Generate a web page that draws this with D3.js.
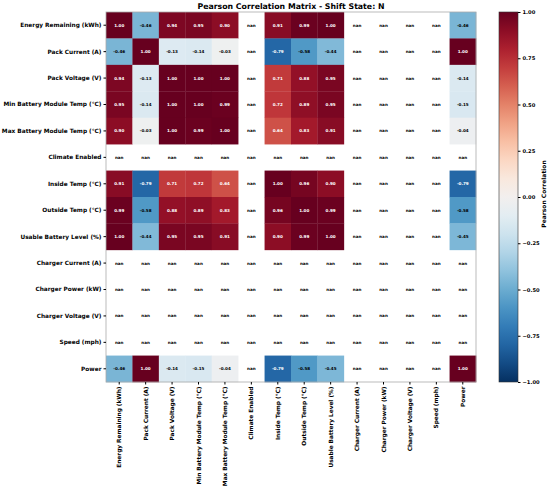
<!DOCTYPE html>
<html>
<head>
<meta charset="utf-8">
<script src="https://cdn.jsdelivr.net/npm/d3@7"></script>
<style>
  body { margin: 0; background: #fff; }
  text { font-family: "DejaVu Sans", sans-serif; font-weight: bold; }
</style>
</head>
<body>
<svg id="chart" width="550" height="489"></svg>
<script>
var variables = [
  "Energy Remaining (kWh)", "Pack Current (A)", "Pack Voltage (V)",
  "Min Battery Module Temp (°C)", "Max Battery Module Temp (°C)",
  "Climate Enabled", "Inside Temp (°C)", "Outside Temp (°C)",
  "Usable Battery Level (%)", "Charger Current (A)", "Charger Power (kW)",
  "Charger Voltage (V)", "Speed (mph)", "Power"
];

var N = null;
var corr = [
  [1.00, -0.46, 0.94, 0.95, 0.90, N, 0.91, 0.99, 1.00, N, N, N, N, -0.46],
  [-0.46, 1.00, -0.13, -0.14, -0.03, N, -0.79, -0.58, -0.44, N, N, N, N, 1.00],
  [0.94, -0.13, 1.00, 1.00, 1.00, N, 0.71, 0.88, 0.95, N, N, N, N, -0.14],
  [0.95, -0.14, 1.00, 1.00, 0.99, N, 0.72, 0.89, 0.95, N, N, N, N, -0.15],
  [0.90, -0.03, 1.00, 0.99, 1.00, N, 0.64, 0.83, 0.91, N, N, N, N, -0.04],
  [N, N, N, N, N, N, N, N, N, N, N, N, N, N],
  [0.91, -0.79, 0.71, 0.72, 0.64, N, 1.00, 0.96, 0.90, N, N, N, N, -0.79],
  [0.99, -0.58, 0.88, 0.89, 0.83, N, 0.96, 1.00, 0.99, N, N, N, N, -0.58],
  [1.00, -0.44, 0.95, 0.95, 0.91, N, 0.90, 0.99, 1.00, N, N, N, N, -0.45],
  [N, N, N, N, N, N, N, N, N, N, N, N, N, N],
  [N, N, N, N, N, N, N, N, N, N, N, N, N, N],
  [N, N, N, N, N, N, N, N, N, N, N, N, N, N],
  [N, N, N, N, N, N, N, N, N, N, N, N, N, N],
  [-0.46, 1.00, -0.14, -0.15, -0.04, N, -0.79, -0.58, -0.45, N, N, N, N, 1.00]
];

var colorTicks = [1.00, 0.75, 0.50, 0.25, 0.00, -0.25, -0.50, -0.75, -1.00];

var svg = d3.select("#chart");
var plotLeft = 106, plotTop = 12, size = 370;

var x = d3.scaleBand().domain(variables).range([plotLeft, plotLeft + size]);
var y = d3.scaleBand().domain(variables).range([plotTop, plotTop + size]);
var color = function (v) { return d3.interpolateRdBu((1 - v) / 2); };

svg.append("text")
  .attr("x", 291).attr("y", 9)
  .attr("text-anchor", "middle")
  .style("font-size", "7.8px")
  .text("Pearson Correlation Matrix - Shift State: N");

var cells = [];
corr.forEach(function (row, i) {
  row.forEach(function (v, j) {
    cells.push({row: variables[i], col: variables[j], value: v});
  });
});

svg.append("g").selectAll("rect")
  .data(cells.filter(function (d) { return d.value !== null; }))
  .enter()
  .append("rect")
  .attr("x", function (d) { return x(d.col); })
  .attr("y", function (d) { return y(d.row); })
  .attr("width", x.bandwidth() + 0.3)
  .attr("height", y.bandwidth() + 0.3)
  .attr("fill", function (d) { return color(d.value); });

svg.append("g").selectAll("text")
  .data(cells)
  .enter()
  .append("text")
  .attr("x", function (d) { return x(d.col) + x.bandwidth() / 2; })
  .attr("y", function (d) { return y(d.row) + y.bandwidth() / 2; })
  .attr("dy", "0.35em")
  .attr("text-anchor", "middle")
  .style("font-size", "4.1px")
  .attr("fill", function (d) {
    return d.value !== null && Math.abs(d.value) > 0.6 ? "#fff" : "#000";
  })
  .text(function (d) { return d.value === null ? "nan" : d.value.toFixed(2); });

svg.append("rect")
  .attr("x", plotLeft).attr("y", plotTop)
  .attr("width", size).attr("height", size)
  .attr("fill", "none")
  .attr("stroke", "#aaa")
  .attr("stroke-width", 0.8);

var yAxis = svg.append("g")
  .attr("transform", "translate(" + plotLeft + ",0)")
  .call(d3.axisLeft(y).tickSize(2.5).tickPadding(2));
yAxis.select(".domain").remove();
yAxis.selectAll("text").style("font-size", "5.8px").attr("fill", "#000");

var xAxis = svg.append("g")
  .attr("transform", "translate(0," + (plotTop + size) + ")")
  .call(d3.axisBottom(x).tickSize(2.5).tickPadding(2));
xAxis.select(".domain").remove();
xAxis.selectAll("text")
  .style("font-size", "5.8px")
  .attr("fill", "#000")
  .attr("transform", "rotate(-90)")
  .attr("text-anchor", "end")
  .attr("x", -4.5)
  .attr("y", 0)
  .attr("dy", "0.35em");

// colorbar
var cbX = 499, cbW = 19;
var cbScale = d3.scaleLinear().domain([-1, 1]).range([plotTop + size, plotTop]);
var grad = svg.append("defs").append("linearGradient")
  .attr("id", "cbgrad")
  .attr("x1", 0).attr("y1", 1).attr("x2", 0).attr("y2", 0);
d3.range(0, 1.0001, 0.05).forEach(function (t) {
  grad.append("stop")
    .attr("offset", t)
    .attr("stop-color", color(-1 + 2 * t));
});
svg.append("rect")
  .attr("x", cbX).attr("y", plotTop)
  .attr("width", cbW).attr("height", size)
  .attr("fill", "url(#cbgrad)")
  .attr("stroke", "#333")
  .attr("stroke-width", 0.6);

var cbAxis = svg.append("g")
  .attr("transform", "translate(" + (cbX + cbW) + ",0)")
  .call(d3.axisRight(cbScale).tickValues(colorTicks)
    .tickFormat(d3.format(".2f")).tickSize(2.5).tickPadding(2));
cbAxis.select(".domain").remove();
cbAxis.selectAll("text").style("font-size", "5.2px").attr("fill", "#000")
  .text(function (d) { return d3.format(".2f")(d).replace("-", "\u2212"); });

svg.append("text")
  .attr("transform", "translate(546," + (plotTop + size / 2 - 3) + ") rotate(-90)")
  .attr("text-anchor", "middle")
  .style("font-size", "6px")
  .text("Pearson Correlation");
</script>
</body>
</html>
